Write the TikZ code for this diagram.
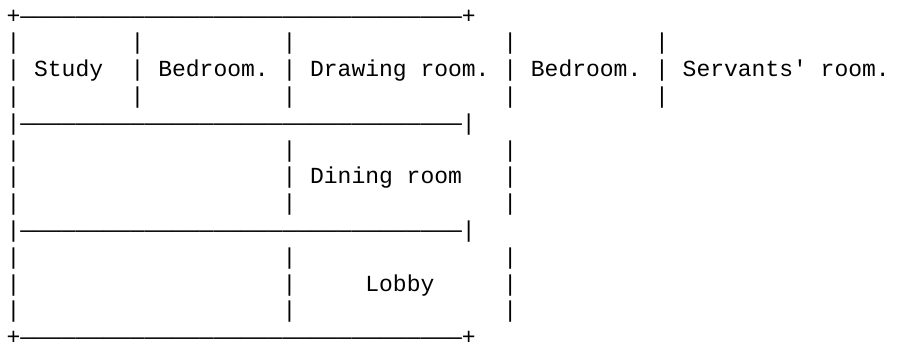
\documentclass[tikz,border=0pt]{standalone}
\usepackage{fontspec}
\newfontfamily\plainmono{Liberation Mono}
\tikzset{
  x=1pt,y=-1pt,
  textrow/.style={anchor=base west,inner sep=0pt,outer sep=0pt,font=\plainmono\fontsize{23}{27}\selectfont,text=black}
}
\begin{document}
\begin{tikzpicture}
\useasboundingbox (0,0) rectangle (905,341);
\node[textrow] (r0)  at (6.5,23)    {+————————————————————————————————+};
\node[textrow] (r1)  at (6.5,49.8)  {|~~~~~~~~|~~~~~~~~~~|~~~~~~~~~~~~~~~|~~~~~~~~~~|};
\node[textrow] (r2)  at (6.5,76.6)  {|~Study~~|~Bedroom.~|~Drawing~room.~|~Bedroom.~|~Servants' room.};
\node[textrow] (r3)  at (6.5,103.4) {|~~~~~~~~|~~~~~~~~~~|~~~~~~~~~~~~~~~|~~~~~~~~~~|};
\node[textrow] (r4)  at (6.5,130.2) {|————————————————————————————————|};
\node[textrow] (r5)  at (6.5,157)   {|~~~~~~~~~~~~~~~~~~~|~~~~~~~~~~~~~~~|};
\node[textrow] (r6)  at (6.5,183.8) {|~~~~~~~~~~~~~~~~~~~|~Dining~room~~~|};
\node[textrow] (r7)  at (6.5,210.6) {|~~~~~~~~~~~~~~~~~~~|~~~~~~~~~~~~~~~|};
\node[textrow] (r8)  at (6.5,237.4) {|————————————————————————————————|};
\node[textrow] (r9)  at (6.5,264.2) {|~~~~~~~~~~~~~~~~~~~|~~~~~~~~~~~~~~~|};
\node[textrow] (r10) at (6.5,291)   {|~~~~~~~~~~~~~~~~~~~|~~~~~Lobby~~~~~|};
\node[textrow] (r11) at (6.5,317.8) {|~~~~~~~~~~~~~~~~~~~|~~~~~~~~~~~~~~~|};
\node[textrow] (r12) at (6.5,344.6) {+————————————————————————————————+};
\end{tikzpicture}
\end{document}
